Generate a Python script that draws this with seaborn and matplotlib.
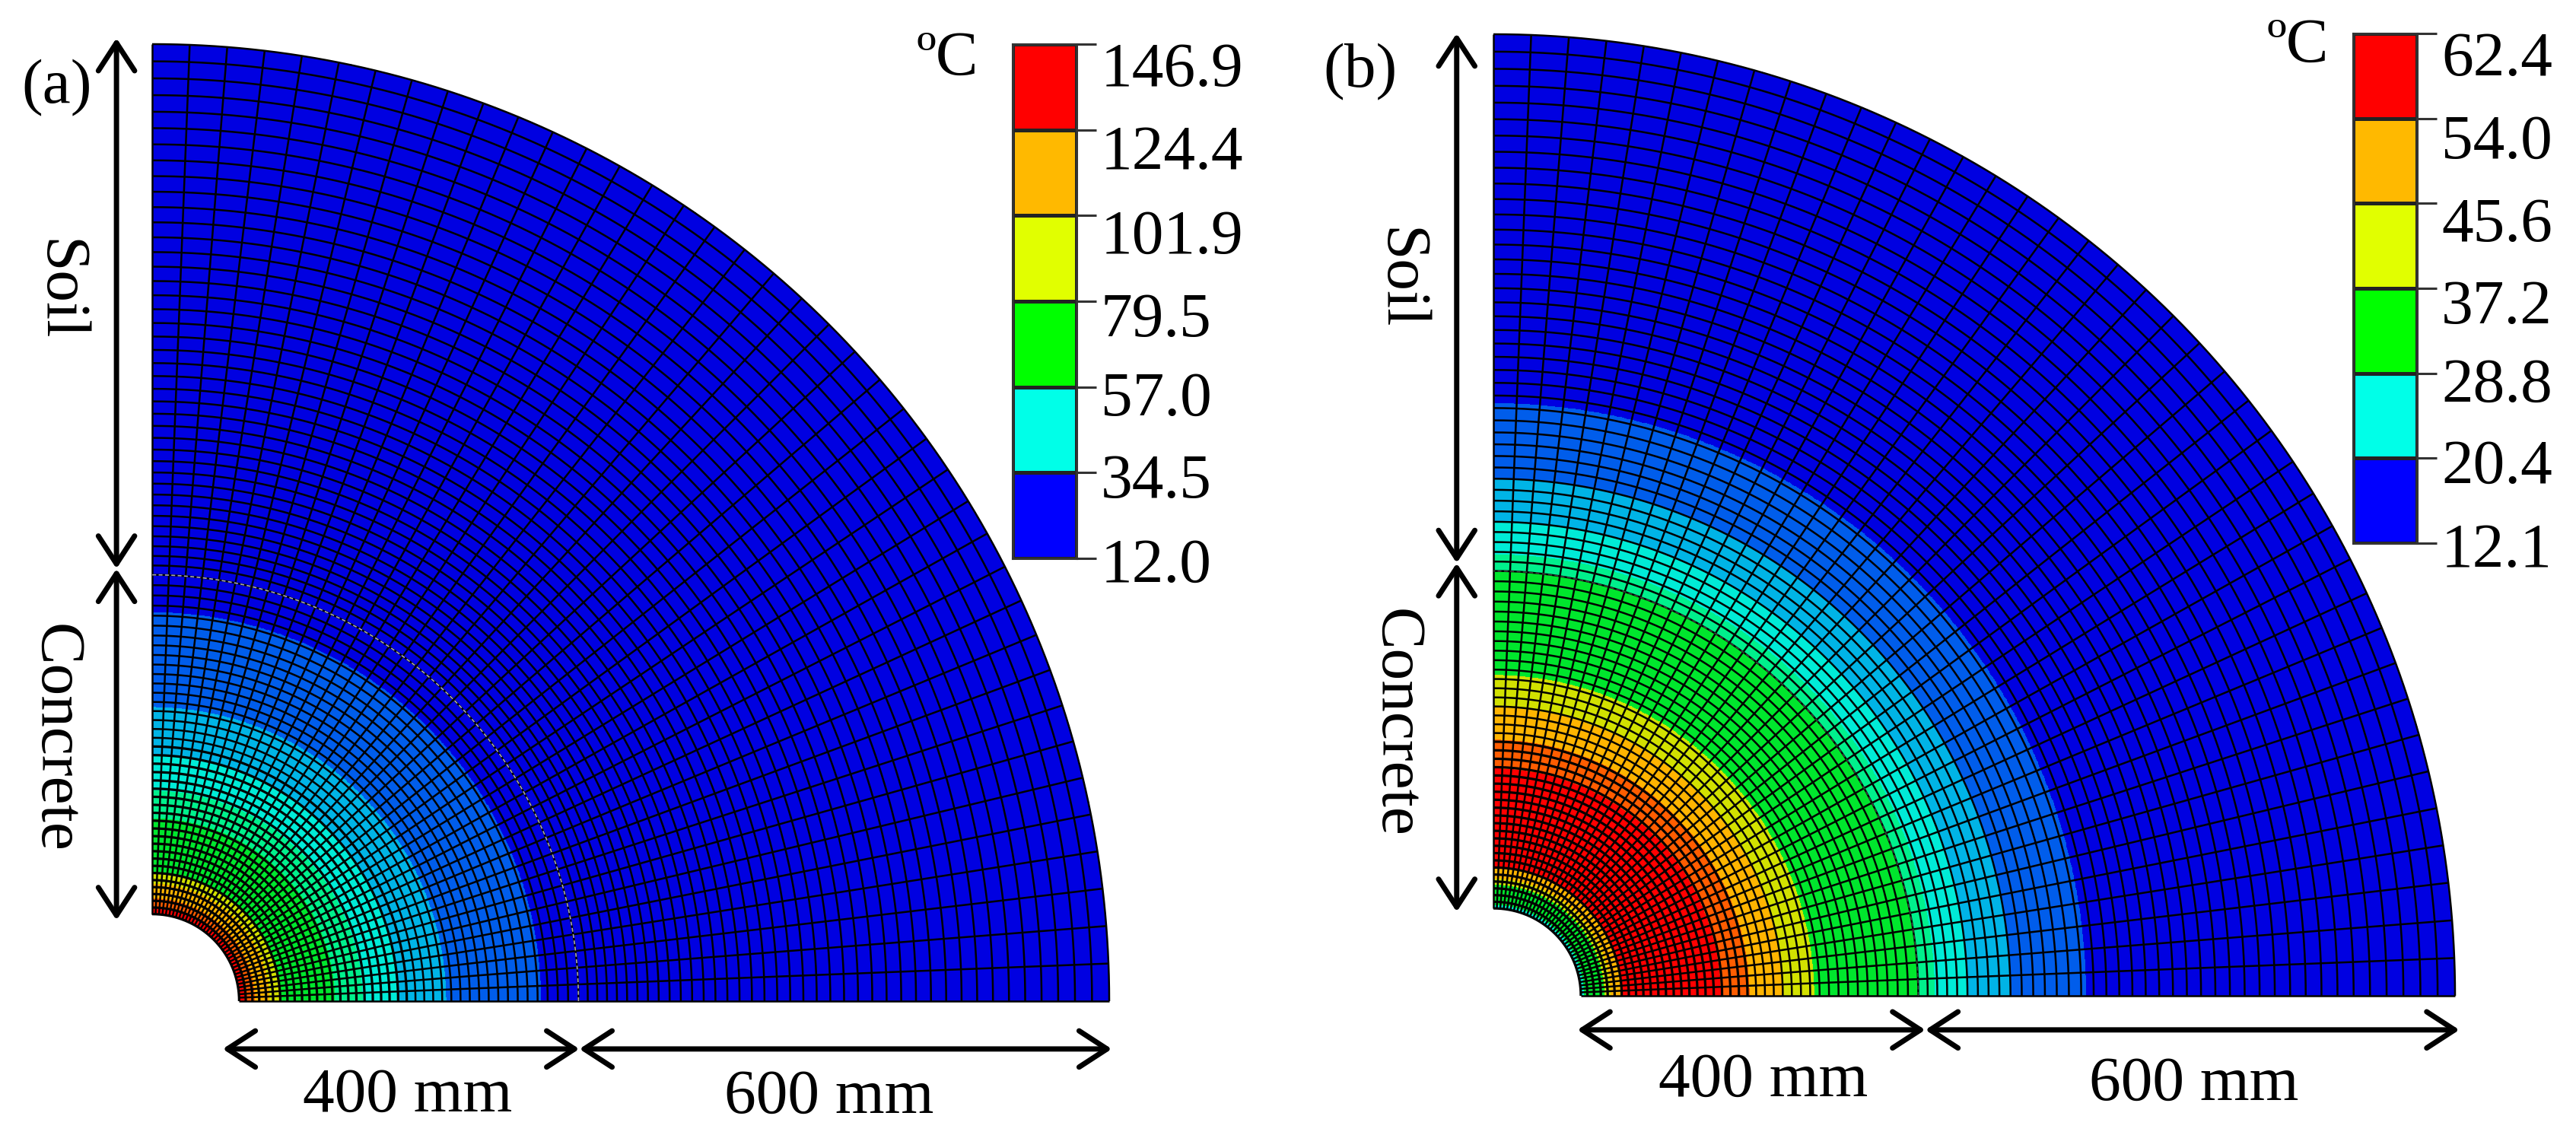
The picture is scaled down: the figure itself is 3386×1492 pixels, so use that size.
import numpy as np
import matplotlib
matplotlib.use('Agg')
import matplotlib.pyplot as plt
from matplotlib.colors import ListedColormap
from matplotlib.transforms import ScaledTranslation
import seaborn as sns

W, H = 3387, 1492

# Abaqus style 12 level contour colours seen in the mesh
mesh_colors = ['#0000e1', '#005deb', '#00b4e6', '#00ebd7', '#00f08c', '#00e62d',
               '#2ee600', '#8be600', '#d2e100', '#ffb400', '#ff5d00', '#ff0000']

# legend colours
legend_colors = ['#0000ff', '#00ffe8', '#00ff00', '#e1ff00', '#ffb900', '#ff0000']

# panel (a): radial band edges in mm and temperature of each band
a_edges = [100, 107, 118, 135, 148, 210, 242, 282, 338, 447, 1100]
a_temps = [141.2, 130.0, 118.7, 107.5, 73.8, 62.6, 51.3, 40.1, 28.9, 17.6]
a_ticks = ['12.0', '34.5', '57.0', '79.5', '101.9', '124.4', '146.9']

# panel (b)
b_edges = [100, 104, 127, 134, 146, 260, 293, 330, 367, 486, 505, 542, 592, 678, 1100]
b_temps = [26.8, 35.2, 47.8, 52.0, 60.3, 56.2, 52.0, 47.8, 35.2, 31.0, 26.8, 22.6, 18.4, 14.2]
b_ticks = ['12.1', '20.4', '28.8', '37.2', '45.6', '54.0', '62.4']

sns.set_theme(style='white')
plt.rcParams['font.family'] = ['Liberation Serif', 'DejaVu Serif']

fig = plt.figure(figsize=(W / 100, H / 100), dpi=100)


def add_box(x0, y0, w, h):
    # box given in image pixels, y measured from the top
    return fig.add_axes([x0 / W, 1 - (y0 + h) / H, w / W, h / H])


def label(x, y, s, rot=0):
    fig.text(x / W, 1 - y / H, s, fontsize=60, ha='center', va='center', rotation=rot, color='black')


def dim_arrow(ax, p0, p1):
    ax.annotate('', xy=p1, xytext=p0, annotation_clip=False,
                arrowprops=dict(arrowstyle='<->,head_length=0.4,head_width=0.26', mutation_scale=66,
                                lw=5, color='black', shrinkA=0, shrinkB=0))


def draw_panel(cx, cy, R, edges, temps, vmin, vmax, arc_r, arc_alpha):
    ax = add_box(cx, cy - R, R, R)
    ax.set_xlim(0, 1100)
    ax.set_ylim(0, 1100)
    ax.axis('off')

    # filled bands
    t = np.radians(np.linspace(0, 90, 361))
    r = np.array(edges, dtype=float)
    X = np.outer(r, np.cos(t))
    Y = np.outer(r, np.sin(t))
    C = np.tile(np.array(temps)[:, None], (1, len(t) - 1))
    ax.pcolormesh(X, Y, C, cmap=ListedColormap(mesh_colors), vmin=vmin, vmax=vmax, shading='flat')

    # FE mesh: 40 + 40 rings, cells get wider going out
    inner = np.linspace(8.3, 13, 40)
    soil = np.linspace(13, 24, 40)
    inner = inner / inner.sum() * (arc_r - 100)
    soil = soil / soil.sum() * (1100 - arc_r)
    rings = np.concatenate([[100], 100 + np.cumsum(inner), arc_r + np.cumsum(soil)])
    for rr in rings:
        # the small cells near the hole look heavier in the original
        lw = 2.3 if rr < 300 else 1.8
        ax.plot(rr * np.cos(t), rr * np.sin(t), color='black', lw=lw, clip_on=False, solid_capstyle='butt')
    for a in np.radians(np.arange(0, 90.1, 2.25)):
        ax.plot([100 * np.cos(a), 1100 * np.cos(a)], [100 * np.sin(a), 1100 * np.sin(a)],
                color='black', lw=1.8, clip_on=False, solid_capstyle='butt')

    # pale line at the concrete / soil interface
    ax.plot(arc_r * np.cos(t), arc_r * np.sin(t), color='#c8c8c8', lw=1.2, ls=(0, (3, 2)), alpha=arc_alpha)
    return ax


def draw_legend(x0, y0, w, h, ticks):
    ax = add_box(x0, y0, w, h)
    vals = np.arange(6)[::-1].reshape(-1, 1)
    sns.heatmap(vals, ax=ax, cmap=ListedColormap(legend_colors), cbar=False, linewidths=2.2,
                linecolor='#222222', xticklabels=False)
    ax.set_yticks(np.arange(7))
    ax.set_yticklabels(ticks[::-1], rotation=0, fontsize=60)
    ax.yaxis.tick_right()
    ax.tick_params(axis='y', length=19, width=2.2, color='#333333', pad=4, right=True, left=False, labelcolor='black')
    # labels sit a little below their ticks in the original, by a varying amount
    for lab, dy in zip(ax.get_yticklabels(), [26, 23, 21, 17, 8, 4, 2]):
        lab.set_transform(lab.get_transform() + ScaledTranslation(0, -dy / 100, fig.dpi_scale_trans))
    for side in ax.spines.values():
        side.set_visible(True)
        side.set_color('#333333')
        side.set_linewidth(2.2)


ax_a = draw_panel(200, 1316, 1258, a_edges, a_temps, 12.0, 146.9, 490, 0.85)
dim_arrow(ax_a, (-41, 93), (-41, 497))
dim_arrow(ax_a, (-41, 497), (-41, 1107))
dim_arrow(ax_a, (81, -55), (491, -55))
dim_arrow(ax_a, (491, -55), (1103, -55))
draw_legend(1331, 58, 84, 676, a_ticks)

ax_b = draw_panel(1963, 1309, 1264, b_edges, b_temps, 12.1, 62.4, 486, 0.3)
dim_arrow(ax_b, (-42, 96), (-42, 495))
dim_arrow(ax_b, (-42, 495), (-42, 1101))
dim_arrow(ax_b, (96, -39), (494, -39))
dim_arrow(ax_b, (494, -39), (1105, -39))
draw_legend(3093, 44, 84, 670, b_ticks)

label(75, 116, '(a)')
label(1788, 95, '(b)')
label(1245, 78, 'ºC')
label(3020, 61, 'ºC')
label(76, 381, 'Soil', 270)
label(72, 970, 'Concrete', 270)
label(1838, 366, 'Soil', 270)
label(1834, 950, 'Concrete', 270)
label(536, 1441, '400 mm')
label(1090, 1443, '600 mm')
label(2318, 1421, '400 mm')
label(2884, 1426, '600 mm')

plt.savefig('out.png', dpi=100, facecolor='white')
